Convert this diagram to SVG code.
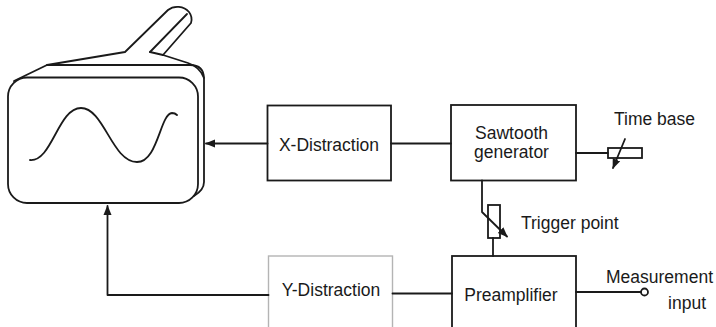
<svg xmlns="http://www.w3.org/2000/svg" width="716" height="327" viewBox="0 0 716 327">
  <style>
    .ln { fill: none; stroke: #1a1a1a; stroke-width: 1.8; stroke-linejoin: round; stroke-linecap: round; }
    .box { fill: #ffffff; stroke: #1a1a1a; stroke-width: 1.8; }
    .box-light { fill: #ffffff; stroke: #b4b4b4; stroke-width: 1.4; }
    .lbl { font-family: "Liberation Sans", Arial, sans-serif; font-size: 17.5px; fill: #1a1a1a; }
    .mid { text-anchor: middle; }
  </style>
  <defs>
    <marker id="arrow" viewBox="0 0 10 10" refX="9" refY="5" markerWidth="10" markerHeight="10" markerUnits="userSpaceOnUse" orient="auto">
      <path d="M0,1 L10,5 L0,9 Z" fill="#1a1a1a"/>
    </marker>
  </defs>

  <rect width="716" height="327" fill="#ffffff"/>

  <!-- Oscilloscope -->
  <g id="oscilloscope">
    <!-- housing behind the screen -->
    <path class="ln" d="M14,81 L47,65 L190,65 Q204,65 204,79 L204,182 Q204,190 194,196"/>
    <!-- top surface and tube -->
    <path class="ln" d="M47,65 L125,52 L168,10 C174,5 184,6 189,12 C192,16 192,20 191,23 L163,55"/>
    <path class="ln" d="M150,52 L187,14"/>
    <path class="ln" d="M150,52 L163,55 L188,63 Q200,67 204,78"/>
    <!-- screen face -->
    <rect class="ln" x="8" y="77.5" width="190" height="125.5" rx="19" ry="19"/>
    <!-- trace -->
    <path class="ln" d="M30,160 C52,162 58,108 81,108 C104,108 112,162 137,162 C158,162 160,114 172,113 Q175,113 177,115"/>
  </g>

  <!-- Blocks -->
  <g id="x-distraction">
    <rect class="box" x="267.5" y="105.5" width="123.5" height="75"/>
    <text class="lbl mid" x="329" y="151">X-Distraction</text>
  </g>

  <g id="sawtooth-generator">
    <rect class="box" x="451" y="105" width="125" height="75.5"/>
    <text class="lbl mid" x="511.5" y="139">Sawtooth</text>
    <text class="lbl mid" x="511.5" y="158">generator</text>
  </g>

  <g id="time-base">
    <rect class="box" x="608" y="148" width="34" height="10"/>
    <text class="lbl" x="614" y="125">Time base</text>
  </g>

  <g id="trigger-point">
    <rect class="box" x="488" y="205" width="12" height="33"/>
    <text class="lbl" x="521" y="229">Trigger point</text>
  </g>

  <g id="y-distraction">
    <rect class="box-light" x="268.5" y="256" width="124" height="85"/>
    <text class="lbl mid" x="331" y="296">Y-Distraction</text>
  </g>

  <g id="preamplifier">
    <rect class="box" x="452" y="256" width="124" height="85"/>
    <text class="lbl mid" x="511" y="301">Preamplifier</text>
  </g>

  <g id="measurement-input">
    <circle cx="644.5" cy="292" r="3.5" fill="#ffffff" stroke="#1a1a1a" stroke-width="1.8"/>
    <text class="lbl" x="606" y="283">Measurement</text>
    <text class="lbl" x="706" y="309" text-anchor="end">input</text>
  </g>

  <!-- Connectors -->
  <g id="connectors">
    <line class="ln" x1="267.5" y1="143.5" x2="206" y2="143.5" marker-end="url(#arrow)"/>
    <line class="ln" x1="391" y1="143.5" x2="451" y2="143.5"/>
    <line class="ln" x1="576" y1="153" x2="608" y2="153"/>
    <line class="ln" x1="625" y1="139" x2="613" y2="168" marker-end="url(#arrow)"/>
    <polyline class="ln" points="482,180.5 482,212 507,236.5" marker-end="url(#arrow)"/>
    <line class="ln" x1="493" y1="238" x2="493" y2="256"/>
    <line class="ln" x1="392.5" y1="293.5" x2="452" y2="293.5"/>
    <polyline class="ln" points="268.5,295 107.5,295 107.5,206" marker-end="url(#arrow)"/>
    <line class="ln" x1="576" y1="292" x2="641" y2="292"/>
  </g>
</svg>
